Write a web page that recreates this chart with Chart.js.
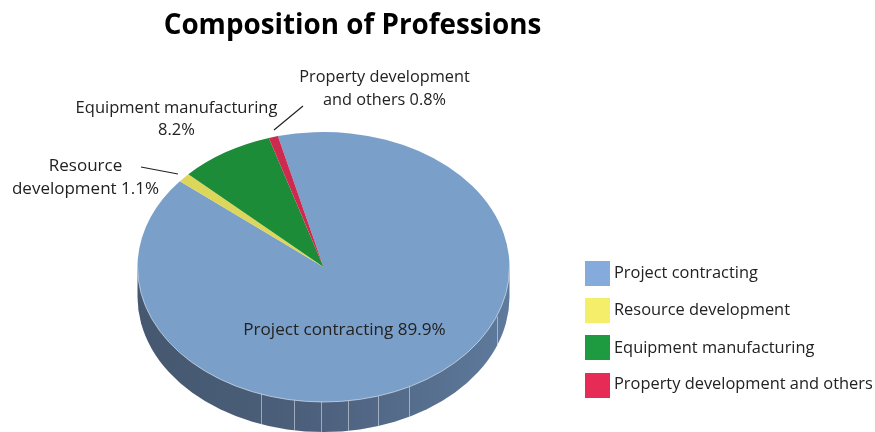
<!DOCTYPE html>
<html>
<head>
<meta charset="utf-8">
<script src="https://cdn.jsdelivr.net/npm/chart.js@4"></script>
<style>
  html, body { margin: 0; padding: 0; background: #fff; }
  #wrap { position: relative; width: 875px; height: 432px; overflow: hidden; font-family: "Open Sans", sans-serif; color: #222; }
  canvas { position: absolute; left: 0; top: 0; }
  .txt { position: absolute; white-space: nowrap; font-size: 16.5px; line-height: 23px; text-align: center; transform: translateX(-50%); }
  #title { position: absolute; left: 352.5px; top: 3px; transform: translateX(-50%); white-space: nowrap; font-size: 27.8px; line-height: 40px; font-weight: 700; color: #000; }
  .key { position: absolute; left: 585px; width: 25px; height: 25px; }
  .keyText { position: absolute; left: 614px; white-space: nowrap; font-size: 16.4px; line-height: 24px; }
</style>
</head>
<body>
<div id="wrap">
  <canvas id="pie" width="875" height="432"></canvas>
  <div id="title">Composition of Professions</div>
</div>
<script>
const categories = ['Project contracting', 'Resource development', 'Equipment manufacturing', 'Property development and others'];
const shares = [89.9, 1.1, 8.2, 0.8];
const sliceColors = ['#7a9fc9', '#dcd65a', '#1c8c38', '#ce2a50'];
const legendColors = ['#85abdc', '#f5ee6a', '#1e9a40', '#e62b57'];
const seamOffsets = [-63, -30, -3, 24, 54, 85, 173];

// the pie is laid out as a circle, then squashed to this height
const squash = 135 / 186;
const depth = 30;
const centerY = 267;

function squashCtx(chart) {
  const arc = chart.getDatasetMeta(0).data[0];
  const ctx = chart.ctx;
  ctx.translate(0, centerY);
  ctx.scale(1, squash);
  ctx.translate(0, -arc.y);
}

const tiltPlugin = {
  id: 'tilt',
  beforeDatasetsDraw(chart) {
    const ctx = chart.ctx;
    const arc = chart.getDatasetMeta(0).data[0];
    const rx = arc.outerRadius;
    const ry = rx * squash;

    // side wall
    const grad = ctx.createLinearGradient(arc.x - rx, 0, arc.x + rx, 0);
    grad.addColorStop(0, '#45586f');
    grad.addColorStop(0.45, '#4c5f7b');
    grad.addColorStop(1, '#5e7a9c');
    ctx.save();
    ctx.fillStyle = grad;
    ctx.beginPath();
    ctx.moveTo(arc.x - rx, centerY);
    ctx.lineTo(arc.x - rx, centerY + depth);
    ctx.ellipse(arc.x, centerY + depth, rx, ry, 0, Math.PI, 0, true);
    ctx.lineTo(arc.x + rx, centerY);
    ctx.closePath();
    ctx.fill();

    // seams on the wall
    ctx.strokeStyle = 'rgba(225,232,240,0.55)';
    ctx.lineWidth = 1;
    seamOffsets.forEach(off => {
      const x = Math.round(arc.x + off) + 0.5;
      const y = centerY + ry * Math.sqrt(1 - (off * off) / (rx * rx));
      ctx.beginPath();
      ctx.moveTo(x, y);
      ctx.lineTo(x, y + depth);
      ctx.stroke();
    });
    ctx.restore();

    ctx.save();
    squashCtx(chart);
  },
  afterDatasetsDraw(chart) {
    const ctx = chart.ctx;
    ctx.restore();
    const arc = chart.getDatasetMeta(0).data[0];
    const rx = arc.outerRadius;
    const ry = rx * squash;

    // light rim under the top face
    ctx.save();
    ctx.strokeStyle = 'rgba(235,240,246,0.6)';
    ctx.lineWidth = 1;
    ctx.beginPath();
    ctx.ellipse(arc.x, centerY, rx, ry, 0, 0, Math.PI);
    ctx.stroke();

    // leader lines
    ctx.strokeStyle = '#222';
    ctx.lineWidth = 1.2;
    ctx.beginPath();
    ctx.moveTo(274, 130);
    ctx.lineTo(303, 106);
    ctx.moveTo(141, 167);
    ctx.lineTo(178, 174);
    ctx.stroke();
    ctx.restore();
  }
};

new Chart(document.getElementById('pie'), {
  type: 'pie',
  data: {
    labels: categories,
    datasets: [{
      data: shares,
      backgroundColor: sliceColors,
      borderWidth: 0,
      clip: false
    }]
  },
  options: {
    responsive: false,
    animation: false,
    rotation: -14.2,
    layout: { padding: { left: 137.5, right: 365.5, top: 30, bottom: 30 } },
    plugins: {
      legend: { display: false },
      title: { display: false },
      tooltip: { enabled: false }
    }
  },
  plugins: [tiltPlugin]
});

const wrap = document.getElementById('wrap');

function addText(html, x, y, size, lineHeight) {
  const el = document.createElement('div');
  el.className = 'txt';
  el.style.left = x + 'px';
  el.style.top = y + 'px';
  el.style.fontSize = size + 'px';
  el.style.lineHeight = lineHeight + 'px';
  el.innerHTML = html;
  wrap.appendChild(el);
}

addText(`${categories[0]} ${shares[0]}%`, 344.5, 317, 17.1, 23);
addText(`Resource<br>development ${shares[1]}%`, 85.5, 153, 17, 23);
addText(`Equipment manufacturing<br>${shares[2]}%`, 176.5, 96, 16.5, 22);
addText(`Property development<br>and others ${shares[3]}%`, 384.5, 65, 16.3, 23);

const legendTops = [261, 298, 335, 373];
const legendTextTops = [260, 297, 335, 371];
categories.forEach((name, i) => {
  const key = document.createElement('div');
  key.className = 'key';
  key.style.top = legendTops[i] + 'px';
  key.style.background = legendColors[i];
  wrap.appendChild(key);
  const label = document.createElement('div');
  label.className = 'keyText';
  label.style.top = legendTextTops[i] + 'px';
  label.textContent = name;
  wrap.appendChild(label);
});
</script>
</body>
</html>
